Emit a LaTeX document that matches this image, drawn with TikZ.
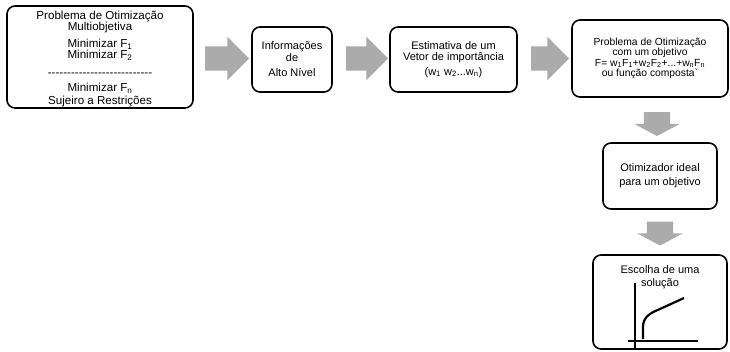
\documentclass[tikz,border=0pt]{standalone}
\usepackage{fontspec}
\setmainfont{Liberation Sans}[Ligatures=TeXOff]
\usetikzlibrary{shapes.arrows, positioning}
\newcommand{\apertado}{\lineskiplimit=-20pt\relax}

\begin{document}
\begin{tikzpicture}[x=1pt, y=-1pt,
    caixa/.style={draw, line width=1.6pt, rounded corners=8pt, align=center, inner sep=0pt,
        font=\fontsize{11}{12}\selectfont},
    seta/.style={single arrow, fill=black!33, inner xsep=0pt, inner ysep=12pt,
        single arrow head extend=9.5pt, single arrow tip angle=90},
    setabaixo/.style={single arrow, fill=black!33, inner xsep=0pt, inner ysep=13pt,
        single arrow head extend=9.5pt, single arrow tip angle=124, minimum height=24pt, rotate=-90}]
    \useasboundingbox (0,0) rectangle (730,352);
    \node[caixa, minimum width=186pt, minimum height=102pt,
        font={\fontsize{11.6}{11}\selectfont\apertado}] (multi) at (100,57)
        {\rule{0pt}{12pt}Problema de Otimização\\[0.5pt]Multiobjetiva\\[6pt]Minimizar F\textsubscript{1}\\
         Minimizar F\textsubscript{2}\\[7pt]---------------------------\\[4pt]
         Minimizar F\textsubscript{n}\\[2pt]Sujeiro a Restrições};
    \node[caixa, minimum width=80pt, minimum height=65pt] (info) at (292,59.5)
        {Informações\\de\\[3pt]Alto Nível};
    \node[caixa, minimum width=127pt, minimum height=65pt,
        font={\fontsize{11}{11}\selectfont\apertado}] (vetor) at (453.5,59.5)
        {Estimativa de um\\Vetor de importância\\[4pt](w\textsubscript{1} w\textsubscript{2}...w\textsubscript{n})};
    \node[caixa, minimum width=156pt, minimum height=77pt,
        font={\fontsize{10.3}{10.3}\selectfont\apertado}] (unico) at (650,58.5)
        {Problema de Otimização\\com um objetivo\\F= w\textsubscript{1}F\textsubscript{1}+w\textsubscript{2}F\textsubscript{2}+...+w\textsubscript{n}F\textsubscript{n}\\ou função composta`};
    \node[caixa, minimum width=114pt, minimum height=66pt, font=\fontsize{11}{14}\selectfont] (otim) at (660,176)
        {Otimizador ideal\\para um objetivo};
    \node[caixa, minimum width=134pt, minimum height=94pt] (escolha) at (660,302) {};
    \node[below=8pt of escolha.north, align=center, font=\fontsize{11}{13}\selectfont] (escolhatxt)
        {Escolha de uma\\solução};
    \node[seta, minimum height=44pt] (s1) at (221,58.5) {};
    \node[seta, minimum height=42pt] (s2) at (361,58.5) {};
    \node[seta, minimum height=38pt] (s3) at (544,58.5) {};
    \node[setabaixo] (s4) at (657,120.5) {};
    \node[setabaixo] (s5) at (660,230) {};
    \draw[line width=1.8pt] (635,283) -- (635,348);
    \draw[line width=1.8pt] (628,341) -- (698,341);
    \draw[line width=2.2pt] (643,339) -- (643,327) .. controls (643,317) and (650,313) .. (660,309) -- (684,298);
\end{tikzpicture}
\end{document}
